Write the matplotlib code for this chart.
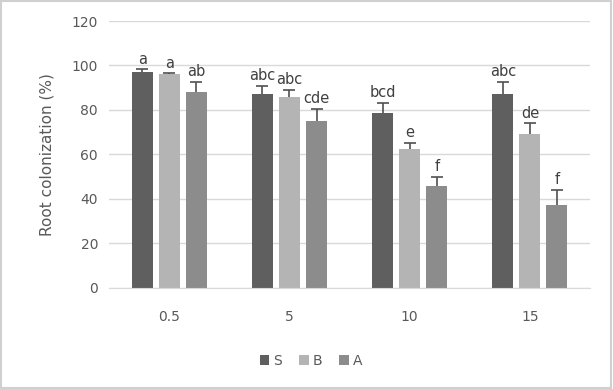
import matplotlib.pyplot as plt
import numpy as np

categories = ["0.5", "5", "10", "15"]
series = ["S", "B", "A"]
S = [97.2, 87.3, 78.7, 87.3]
B = [96.0, 85.8, 62.6, 69.0]
A = [88.0, 75.0, 45.8, 37.3]
S_err = [1.0, 3.5, 4.6, 5.3]
B_err = [0.5, 3.2, 2.7, 5.0]
A_err = [4.6, 5.6, 4.0, 6.7]
S_lab = ["a", "abc", "bcd", "abc"]
B_lab = ["a", "abc", "e", "de"]
A_lab = ["ab", "cde", "f", "f"]

colors = ["#5f5f5f", "#b4b4b4", "#8c8c8c"]
text_col = "#595959"

fig = plt.figure(figsize=(6.13, 3.89), dpi=100)
ax = fig.add_axes([0.178, 0.26, 0.7845, 0.686])

x = np.arange(len(categories))
width = 0.175
offsets = [-0.225, 0, 0.225]
vals = [S, B, A]
errs = [S_err, B_err, A_err]
labs = [S_lab, B_lab, A_lab]

for i in range(3):
    ax.bar(x + offsets[i], vals[i], width, color=colors[i], label=series[i], zorder=2)
    # symmetric bars drawn behind the columns, so only the upper half shows
    ax.errorbar(x + offsets[i], vals[i], yerr=errs[i], fmt="none",
                ecolor="#505050", elinewidth=1.2, capsize=4, capthick=1.2, zorder=1.5)
    for j in range(4):
        ax.text(x[j] + offsets[i], vals[i][j] + errs[i][j] + 1.2, labs[i][j],
                ha="center", va="bottom", fontsize=10.5, color="#404040")

ax.set_xlim(-0.5, 3.5)
ax.set_ylim(0, 120)
ax.set_yticks(range(0, 121, 20))
ax.set_xticks(x)
ax.set_xticklabels(categories)
ax.yaxis.grid(True, color="#d9d9d9", linewidth=1, zorder=0)
ax.set_axisbelow(True)
for s in ["top", "right", "left"]:
    ax.spines[s].set_visible(False)
ax.spines["bottom"].set_color("#d9d9d9")
ax.tick_params(axis="both", length=0, labelsize=10, colors=text_col, pad=8)
ax.tick_params(axis="x", pad=16)
ax.set_ylabel("Root colonization (%)", fontsize=11, color=text_col, labelpad=12)

ax.legend(loc="upper center", bbox_to_anchor=(0.42, -0.2), ncol=3, frameon=False,
          fontsize=10, handlelength=0.7, handleheight=0.7, handletextpad=0.3,
          columnspacing=1.2, labelcolor=text_col)

fig.patches.append(plt.Rectangle((0.002, 0.003), 0.995, 0.994, transform=fig.transFigure,
                                 fill=False, edgecolor="#d0d0d0", linewidth=1.5))

fig.savefig("out.png", dpi=100)
